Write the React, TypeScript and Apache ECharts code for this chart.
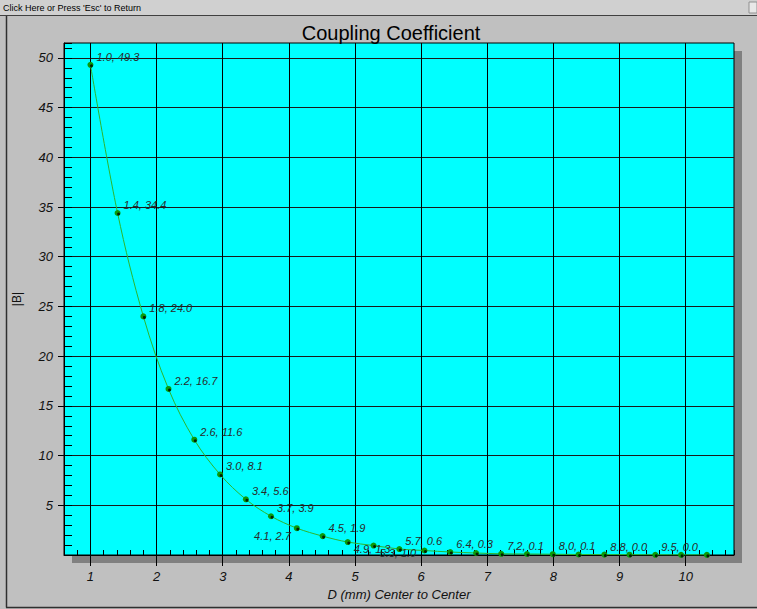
import React, { useEffect, useRef } from 'react';
import * as echarts from 'echarts';

// ---- data ----
const xValues = [1.0, 1.41, 1.8, 2.18, 2.57, 2.96, 3.35, 3.73, 4.12, 4.51, 4.89, 5.28, 5.67, 6.05, 6.44, 6.83, 7.21, 7.6, 7.99, 8.38, 8.77, 9.15, 9.54, 9.93, 10.32];
const yValues = [49.3, 34.4, 24.0, 16.7, 11.6, 8.1, 5.6, 3.9, 2.7, 1.9, 1.3, 0.95, 0.6, 0.45, 0.3, 0.2, 0.12, 0.1, 0.08, 0.05, 0.04, 0.03, 0.02, 0.01, 0.01];
const pointLabels = [
  '1.0, 49.3', '1.4, 34.4', '1.8, 24.0', '2.2, 16.7', '2.6, 11.6', '3.0, 8.1', '3.4, 5.6', '3.7, 3.9',
  '4.1, 2.7', '4.5, 1.9', '4.9, 1.3', '5.3, 1.0', '5.7, 0.6', '', '6.4, 0.3', '', '7.2, 0.1', '',
  '8.0, 0.1', '', '8.8, 0.0', '', '9.5, 0.0', '', '',
];
// ur = upper right, ll = lower left, lr = lower right
const labelPlacement = [
  'ur', 'ur', 'ur', 'ur', 'ur', 'ur', 'ur', 'ur', 'll', 'ur', 'lr', 'lr', 'ur', 'ur', 'ur', 'ur', 'ur',
  'ur', 'ur', 'ur', 'ur', 'ur', 'ur', 'ur', 'ur',
];
const xTickLabels = [1, 2, 3, 4, 5, 6, 7, 8, 9, 10];
const yTickLabels = [5, 10, 15, 20, 25, 30, 35, 40, 45, 50];

const X_MIN = 0.6;
const X_MAX = 10.73;
const Y_MIN = 0;
const Y_MAX = 51.5;

const FONT = "'Liberation Sans', Arial, sans-serif";

function labelFor(i: number) {
  const text = pointLabels[i];
  if (!text) return { show: false };
  const p = labelPlacement[i];
  const base = {
    show: true,
    formatter: text,
    fontFamily: FONT,
    fontSize: 11,
    fontStyle: 'italic',
    color: '#2a2a2a',
    distance: 0,
    verticalAlign: 'middle',
  };
  if (p === 'll') return { ...base, position: 'left', align: 'right', offset: [-3, 8] };
  if (p === 'lr') return { ...base, position: 'right', align: 'left', offset: [3, 7] };
  return { ...base, position: 'right', align: 'left', offset: [3, -8] };
}

export default function App() {
  const ref = useRef<HTMLDivElement>(null);

  useEffect(() => {
    if (!ref.current) return;
    const chart = echarts.init(ref.current, null, { renderer: 'svg' });

    const lineData = xValues.map((x, i) => ({ value: [x, yValues[i]], label: labelFor(i) }));
    const dotData = xValues.map((x, i) => [x, yValues[i]]);

    const option: any = {
      animation: false,
      backgroundColor: '#c0c0c0',
      title: {
        text: 'Coupling Coefficient',
        left: 386,
        top: 18,
        textAlign: 'center',
        textStyle: { fontFamily: FONT, fontSize: 20, fontWeight: 'normal', color: '#000' },
      },
      grid: {
        left: 64,
        top: 43,
        right: 23,
        bottom: 54,
        show: true,
        backgroundColor: '#00ffff',
        borderColor: '#000',
        borderWidth: 1,
        containLabel: false,
      },
      graphic: [
        { type: 'rect', z: -1, shape: { x: 72, y: 51, width: 670, height: 512 }, style: { fill: '#808080' } },
        { type: 'rect', shape: { x: 0, y: 0, width: 757, height: 15 }, style: { fill: '#d0d0d0' } },
        { type: 'line', shape: { x1: 0, y1: 15.5, x2: 757, y2: 15.5 }, style: { stroke: '#404040', lineWidth: 1 } },
        {
          type: 'text',
          x: 3,
          y: 7.5,
          style: {
            text: "Click Here or Press 'Esc' to Return",
            fontFamily: FONT,
            fontSize: 9,
            fill: '#000',
            verticalAlign: 'middle',
          },
        },
        { type: 'rect', shape: { x: 749, y: 2, width: 8, height: 11 }, style: { fill: '#e8e8e8', stroke: '#909090', lineWidth: 1 } },
        { type: 'line', shape: { x1: 6.5, y1: 16, x2: 6.5, y2: 607.5 }, style: { stroke: '#303030', lineWidth: 1.5 } },
        { type: 'line', shape: { x1: 6, y1: 607.5, x2: 757, y2: 607.5 }, style: { stroke: '#303030', lineWidth: 1.5 } },
      ],
      xAxis: [
        {
          type: 'value',
          gridIndex: 0,
          position: 'bottom',
          min: X_MIN,
          max: X_MAX,
          minInterval: 1,
          maxInterval: 1,
          axisLine: { show: true, onZero: false, lineStyle: { color: '#000', width: 1 } },
          axisTick: { show: true, inside: false, length: 11, customValues: xTickLabels, lineStyle: { color: '#000', width: 1 } },
          axisLabel: {
            customValues: xTickLabels,
            margin: 15,
            fontFamily: FONT,
            fontSize: 13,
            fontStyle: 'italic',
            color: '#111',
          },
          splitLine: { show: true, lineStyle: { color: '#000', width: 1 } },
          name: 'D (mm) Center to Center',
          nameLocation: 'middle',
          nameGap: 29,
          nameTextStyle: { fontFamily: FONT, fontSize: 13, fontStyle: 'italic', color: '#111' },
        },
        {
          type: 'value',
          gridIndex: 0,
          position: 'bottom',
          min: X_MIN,
          max: X_MAX,
          interval: 0.2,
          axisLine: { show: false, onZero: false },
          axisTick: { show: true, inside: true, length: 5, lineStyle: { color: '#000', width: 1 } },
          axisLabel: { show: false },
          splitLine: { show: false },
        },
      ],
      yAxis: [
        {
          type: 'value',
          gridIndex: 0,
          position: 'left',
          min: Y_MIN,
          max: Y_MAX,
          interval: 5,
          axisLine: { show: true, onZero: false, lineStyle: { color: '#000', width: 1 } },
          axisTick: { show: true, inside: false, length: 6, customValues: yTickLabels, lineStyle: { color: '#000', width: 1 } },
          axisLabel: {
            customValues: yTickLabels,
            margin: 11,
            fontFamily: FONT,
            fontSize: 13,
            fontStyle: 'italic',
            color: '#111',
          },
          splitLine: { show: true, lineStyle: { color: '#1a1a1a', width: 1 } },
          name: '|B|',
          nameLocation: 'middle',
          nameGap: 41,
          nameRotate: 90,
          nameTextStyle: { fontFamily: FONT, fontSize: 12, color: '#111' },
        },
        {
          type: 'value',
          gridIndex: 0,
          position: 'left',
          min: Y_MIN,
          max: Y_MAX,
          interval: 1,
          axisLine: { show: false, onZero: false },
          axisTick: { show: true, inside: true, length: 8, lineStyle: { color: '#000', width: 1 } },
          axisLabel: { show: false },
          splitLine: { show: false },
        },
      ],
      series: [
        {
          type: 'line',
          xAxisIndex: 0,
          yAxisIndex: 0,
          data: lineData,
          smooth: 0.35,
          symbol: 'circle',
          symbolSize: 6,
          showAllSymbol: true,
          lineStyle: { color: '#2db52d', width: 1 },
          itemStyle: { color: '#0b9a0b' },
          z: 3,
        },
        {
          type: 'scatter',
          xAxisIndex: 0,
          yAxisIndex: 0,
          data: dotData,
          symbol: 'circle',
          symbolSize: 3,
          symbolOffset: [1, 1],
          itemStyle: { color: '#000' },
          silent: true,
          z: 4,
        },
      ],
    };

    chart.setOption(option);
    return () => chart.dispose();
  }, []);

  return (
    <div
      ref={ref}
      style={{ position: 'absolute', left: 0, top: 0, width: 757, height: 609 }}
    />
  );
}
